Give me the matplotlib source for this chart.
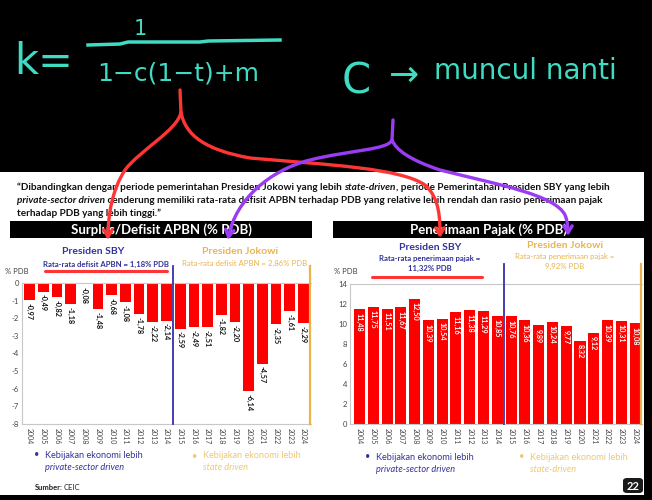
import matplotlib.pyplot as plt
import numpy as np
from matplotlib.patches import Rectangle, FancyBboxPatch, FancyArrowPatch
from matplotlib.lines import Line2D
from matplotlib.path import Path

# data
years = ['2004', '2005', '2006', '2007', '2008', '2009', '2010', '2011', '2012', '2013', '2014',
         '2015', '2016', '2017', '2018', '2019', '2020', '2021', '2022', '2023', '2024']
deficit = [-0.97, -0.49, -0.82, -1.18, -0.08, -1.48, -0.68, -1.08, -1.78, -2.22, -2.14,
           -2.59, -2.49, -2.51, -1.82, -2.20, -6.14, -4.57, -2.35, -1.61, -2.29]
tax = [11.48, 11.75, 11.51, 11.67, 12.50, 10.39, 10.54, 11.16, 11.38, 11.29, 10.85,
       10.76, 10.36, 9.89, 10.24, 9.77, 8.32, 9.12, 10.39, 10.31, 10.08]
deficit_ticks = [0, -1, -2, -3, -4, -5, -6, -7, -8]
tax_ticks = [0, 2, 4, 6, 8, 10, 12, 14]
split_at = 10.5  # SBY -> Jokowi

RED = '#ff0000'
BLUE = '#33339c'
GOLD = '#e8b450'
GOLD_LIGHT = '#efc773'
CYAN = '#3fdcc4'
PEN_RED = '#ff3535'
PEN_PURPLE = '#9b3cf5'
SLIDE_FONT = 'Lato'

W, H = 652, 500
fig = plt.figure(figsize=(W / 100, H / 100), dpi=100, facecolor='black')


def fx(x):
    return x / W


def fy(y):
    return 1 - y / H


def rect(x0, y0, x1, y1, color, z=0):
    fig.add_artist(Rectangle((fx(x0), fy(y1)), fx(x1) - fx(x0), fy(y0) - fy(y1),
                             transform=fig.transFigure, facecolor=color, lw=0, zorder=z))


def text(x, y, s, **kw):
    kw.setdefault('family', SLIDE_FONT)
    return fig.text(fx(x), fy(y), s, **kw)


def fitted_size(s, target, size, **kw):
    r = fig.canvas.get_renderer()
    t = text(0, 0, s, fontsize=size, **kw)
    w = t.get_window_extent(r).width
    t.remove()
    return size * target / w


def rich_line(x, y, parts, size, **kw):
    r = fig.canvas.get_renderer()
    for s, style in parts:
        t = text(x, y, s, fontsize=size, fontstyle=style, va='baseline', **kw)
        x += t.get_window_extent(r).width


# slide background and black borders
rect(0, 172, 644, 495, 'white', z=-2)

# quote
q1 = [('\u201cDibandingkan dengan periode pemerintahan Presiden Jokowi yang lebih ', 'normal'),
      ('state-driven', 'italic'),
      (', periode Pemerintahan Presiden SBY yang lebih', 'normal')]
q2 = [('private-sector driven', 'italic'),
      (' cenderung memiliki rata-rata defisit APBN terhadap PDB yang relative lebih rendah dan rasio penerimaan pajak', 'normal')]
q3 = [('terhadap PDB yang lebih tinggi.\u201d', 'normal')]
qsize = fitted_size(''.join(p[0] for p in q1), 598, 7, fontweight='bold')
rich_line(17, 190, q1, qsize, fontweight='bold', color='#111111')
rich_line(17, 203, q2, qsize, fontweight='bold', color='#111111')
rich_line(17, 216, q3, qsize, fontweight='bold', color='#111111')

# title bars
rect(10, 221, 312, 238, 'black', z=1)
rect(333, 221, 644, 238, 'black', z=1)
text(161, 230, 'Surplus/Defisit APBN (% PDB)', color='white', fontsize=9.5, fontweight='bold',
     ha='center', va='center', zorder=2)
text(488, 230, 'Penerimaan Pajak (% PDB)', color='white', fontsize=9.5, fontweight='bold',
     ha='center', va='center', zorder=2)

# period headers
text(93, 252, 'Presiden SBY', color=BLUE, fontsize=7.5, fontweight='bold', ha='center', va='center')
text(106, 264, 'Rata-rata defisit APBN = 1,18% PDB', color=BLUE, fontsize=5.6, fontweight='bold',
     ha='center', va='center')
text(240, 251, 'Presiden Jokowi', color=GOLD, fontsize=7.5, fontweight='bold', ha='center', va='center')
text(245, 263, 'Rata-rata defisit APBN = 2,86% PDB', color=GOLD, fontsize=5.6, ha='center', va='center')
text(430, 247, 'Presiden SBY', color=BLUE, fontsize=7.5, fontweight='bold', ha='center', va='center')
text(430, 258, 'Rata-rata penerimaan pajak =', color=BLUE, fontsize=5.6, fontweight='bold',
     ha='center', va='center')
text(430, 268, '11,32% PDB', color=BLUE, fontsize=5.6, fontweight='bold', ha='center', va='center')
text(565, 245, 'Presiden Jokowi', color=GOLD, fontsize=7.5, fontweight='bold', ha='center', va='center')
text(565, 256, 'Rata-rata penerimaan pajak =', color=GOLD, fontsize=5.6, ha='center', va='center')
text(565, 266, '9,92% PDB', color=GOLD, fontsize=5.6, ha='center', va='center')
text(5, 271, '% PDB', color='#444444', fontsize=5.5, va='center')
text(334, 272, '% PDB', color='#444444', fontsize=5.5, va='center')


def style_axes(ax):
    for s in ax.spines.values():
        s.set_color('#c8c8c8')
        s.set_linewidth(0.8)
    ax.spines['right'].set_visible(False)
    ax.tick_params(length=0, labelsize=5.5, colors='#444444', pad=2)
    ax.tick_params(axis='x', labelsize=5, pad=3)
    for lab in ax.get_xticklabels() + ax.get_yticklabels():
        lab.set_family(SLIDE_FONT)


x = np.arange(len(years))

# left chart: surplus / deficit
ax1 = fig.add_axes([fx(22), fy(424), fx(311) - fx(22), fy(283) - fy(424)])
ax1.bar(x, deficit, width=0.78, color=RED, zorder=2)
ax1.set_xlim(-0.55, 20.55)
ax1.set_ylim(-8, 0)
ax1.set_yticks(deficit_ticks, [str(t) for t in deficit_ticks])
ax1.set_xticks(x, years, rotation=270)
style_axes(ax1)
for xi, v in zip(x, deficit):
    ax1.annotate(f'{v:.2f}'.replace('.', ','), (xi, v), xytext=(0, -2), textcoords='offset points',
                 rotation=270, ha='center', va='top', fontsize=5.2, fontweight='bold',
                 family=SLIDE_FONT, color='#111111')
ax1.axvline(split_at, ymin=0, ymax=1.12, color='#3a2fa8', lw=1.3, clip_on=False, zorder=3)
ax1.axvline(20.5, ymin=0, ymax=1.12, color=GOLD, lw=1.6, clip_on=False, zorder=3)

# right chart: tax revenue
ax2 = fig.add_axes([fx(350), fy(424), fx(642) - fx(350), fy(284) - fy(424)])
ax2.bar(x, tax, width=0.8, color=RED, zorder=2)
ax2.set_xlim(-0.69, 20.5)
ax2.set_ylim(0, 14)
ax2.set_yticks(tax_ticks, [str(t) for t in tax_ticks])
ax2.set_xticks(x, years, rotation=270)
style_axes(ax2)
for xi, v in zip(x, tax):
    ax2.annotate(f'{v:.2f}'.replace('.', ','), (xi, v), xytext=(0, -2.5), textcoords='offset points',
                 rotation=270, ha='center', va='top', fontsize=5.2, fontweight='bold',
                 family=SLIDE_FONT, color='white')
ax2.axvline(split_at, ymin=0, ymax=1.143, color='#3a2fa8', lw=1.3, clip_on=False, zorder=3)
ax2.axvline(20.45, ymin=0, ymax=1.143, color=GOLD, lw=1.6, clip_on=False, zorder=3)

# policy notes under the charts
for bx, by, c1, line2, col in [(37, 455, 'Kebijakan ekonomi lebih', 'private-sector driven', BLUE),
                               (195, 456, 'Kebijakan ekonomi lebih', 'state driven', GOLD_LIGHT),
                               (368, 457, 'Kebijakan ekonomi lebih', 'private-sector driven', BLUE),
                               (522, 457, 'Kebijakan ekonomi lebih', 'state-driven', GOLD_LIGHT)]:
    text(bx, by, '\u2022', color=col, fontsize=6.5, ha='center', va='center')
    text(bx + 8, by, c1, color=col, fontsize=6.6, va='center')
    text(bx + 8, by + 12, line2, color=col, fontsize=6.6, fontstyle='italic', va='center')

text(35, 487, 'Sumber:', color='#222222', fontsize=5.5, fontweight='bold', va='center')
text(64, 487, 'CEIC', color='#222222', fontsize=5.5, va='center')

# page number
fig.add_artist(FancyBboxPatch((fx(623), fy(493)), fx(643) - fx(623), fy(478) - fy(493),
                              boxstyle='round,pad=0,rounding_size=0.006', transform=fig.transFigure,
                              facecolor='#1a1a1a', edgecolor='none', zorder=4))
text(633, 486, '22', color='white', fontsize=8, fontweight='bold', ha='center', va='center', zorder=5)

rect(644, 0, 652, 500, 'black', z=6)
rect(0, 495, 652, 500, 'black', z=6)

# handwritten notes on top
HAND = dict(family='DejaVu Sans', color=CYAN, zorder=8)
text(14, 62, 'k=', fontsize=30, va='center', **HAND)
text(140, 29, '1', fontsize=15, ha='center', va='center', **HAND)
fig.add_artist(Line2D([fx(88), fx(120), fx(128), fx(200), fx(208), fx(280)],
                      [fy(45), fy(44), fy(42), fy(42), fy(41), fy(40)],
                      transform=fig.transFigure, color=CYAN, lw=2.5, zorder=8))
text(178, 74, '1\u2212c(1\u2212t)+m', fontsize=18, ha='center', va='center', **HAND)
text(356, 82, 'C', fontsize=30, ha='center', va='center', **HAND)
text(404, 76, '\u2192', fontsize=26, ha='center', va='center', **HAND)
text(525, 71, 'muncul nanti', fontsize=20, ha='center', va='center', **HAND)


def pen(points, codes, color):
    verts = [(fx(px), fy(py)) for px, py in points]
    fig.add_artist(FancyArrowPatch(path=Path(verts, codes), arrowstyle='->,head_length=5,head_width=3',
                                   color=color, lw=2.4, transform=fig.transFigure, zorder=7))


M, L, C = Path.MOVETO, Path.LINETO, Path.CURVE4
pen([(180, 90), (181, 112), (178, 130), (140, 150), (125, 170), (112, 190), (108, 215), (108, 240)],
    [M, L, C, C, C, C, C, C], PEN_RED)
pen([(181, 112), (185, 135), (205, 150), (250, 158), (330, 165), (400, 168), (425, 185),
     (440, 198), (440, 220), (440, 238)],
    [M, C, C, C, C, C, C, C, C, C], PEN_RED)
pen([(393, 120), (392, 140), (388, 150), (350, 150), (310, 160), (270, 170), (235, 200), (228, 240)],
    [M, L, C, C, C, C, C, C], PEN_PURPLE)
pen([(392, 140), (396, 150), (410, 160), (440, 170), (500, 185), (555, 195), (565, 215),
     (568, 222), (568, 230), (568, 236)],
    [M, C, C, C, C, C, C, C, C, C], PEN_PURPLE)

# red underlines
for x0, x1, yy in [(45, 167, 271), (372, 482, 277)]:
    fig.add_artist(Line2D([fx(x0), fx(x1)], [fy(yy), fy(yy)], transform=fig.transFigure,
                          color=PEN_RED, lw=2.2, solid_capstyle='round', zorder=7))

fig.savefig('out.png', dpi=100, facecolor='black')
